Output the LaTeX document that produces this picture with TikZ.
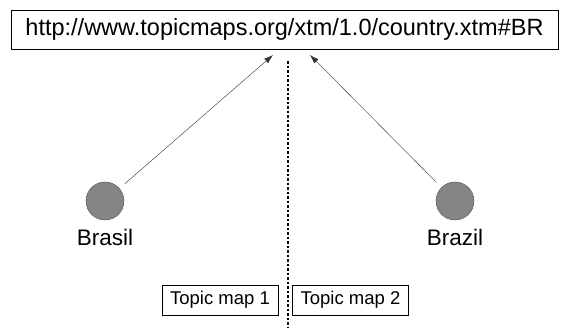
\documentclass[tikz,border=0pt]{standalone}
\usepackage{fontspec}
\setmainfont{Liberation Sans}
\usetikzlibrary{positioning,arrows.meta}
\begin{document}
\begin{tikzpicture}[x=1pt,y=-1pt]
        %colores
        \colorlet{bola}{black!48}
        \tikzset{caja/.style={draw,thin,inner sep=0pt},
                 tema/.style={circle,draw=black!70,fill=bola,minimum size=38pt,inner sep=0pt},
                 flecha/.style={-{Latex[length=9pt,width=6pt]},black!80,thin}}
        \useasboundingbox (0,0) rectangle (562,327);
        % URL
        \node[caja,minimum width=547pt,minimum height=39pt,font=\fontsize{23.5}{26}\selectfont] (url) at (284.5,29.5) {http://www.topicmaps.org/xtm/1.0/country.xtm\#BR};
        \coordinate (pi) at (273,55);
        \coordinate (pd) at (310,55);

        % Temas
        \node[tema] (brasil) at (105,201) {};
        \node[below=5pt of brasil,font=\fontsize{22.5}{24}\selectfont] (tbrasil) {Brasil};
        \node[tema] (brazil) at (455,201) {};
        \node[below=5pt of brazil,font=\fontsize{22.5}{24}\selectfont] (tbrazil) {Brazil};

        % Flechas
        \draw[flecha,shorten <=7pt] (brasil) -- (pi);
        \draw[flecha,shorten <=7pt] (brazil) -- (pd);

        % Separacion
        \coordinate (arriba) at (288,61);
        \coordinate (abajo) at (288,327);
        \draw[line width=2.5pt,dotted] (arriba) -- (abajo);

        % Mapas
        \node[caja,minimum width=116pt,minimum height=30pt,font=\fontsize{18.5}{20}\selectfont] (mapa1) at (220,300) {Topic map 1};
        \node[caja,minimum width=116pt,minimum height=30pt,font=\fontsize{18.5}{20}\selectfont] (mapa2) at (350.5,300) {Topic map 2};
\end{tikzpicture}
\end{document}
